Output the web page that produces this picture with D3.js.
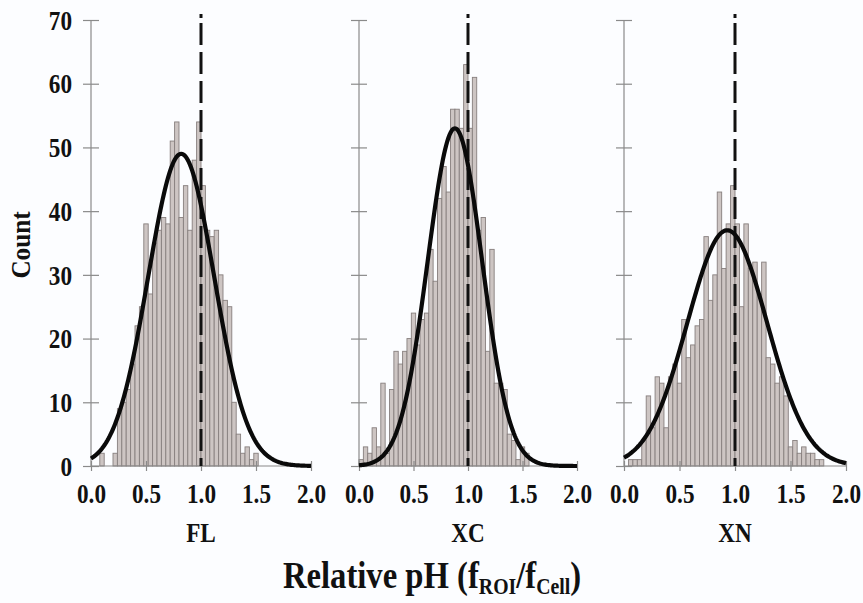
<!DOCTYPE html>
<html>
<head>
<meta charset="utf-8">
<script src="https://cdn.jsdelivr.net/npm/d3@7"></script>
<style>
  body { margin: 0; background: #fcfdff; }
  text { font-family: "Liberation Serif", "Times New Roman", serif; font-weight: bold; fill: #111; }
</style>
</head>
<body>
<svg width=863 height=603></svg>
<script>
// data: counts per 0.04-wide bin, starting at 0.0
var groups = ["FL", "XC", "XN"]
var countsFL = [0, 0, 2, 0, 0, 2, 9, 10, 12, 16, 22, 25, 38, 27, 35, 37, 39, 38, 51, 54,
                39, 44, 37, 48, 54, 44, 37, 36, 37, 30, 26, 25, 10, 5, 2, 3, 1, 2]
var countsXC = [1, 3, 2, 6, 3, 13, 2, 12, 18, 16, 18, 20, 24, 19, 23, 24, 34, 29, 42, 47,
                43, 56, 56, 53, 63, 53, 61, 37, 39, 18, 34, 13, 13, 12, 5, 4, 1, 3, 2]
var countsXN = [0, 1, 1, 1, 4, 11, 6, 14, 13, 6, 14, 16, 13, 23, 17, 19, 22, 23, 36, 26,
                30, 43, 31, 38, 44, 38, 25, 38, 31, 32, 27, 32, 17, 16, 13, 14, 11, 3, 4, 2,
                3, 2, 2, 1, 1]
var binWidth = 0.04

// fitted normal curves
var fitMean = [0.82, 0.88, 0.93]
var fitSd = [0.30, 0.25, 0.36]
var fitPeak = [49, 53, 37]

var xTicks = [0, 0.5, 1.0, 1.5, 2.0]
var yTicks = [0, 10, 20, 30, 40, 50, 60, 70]
var refValue = 1.0

var svg = d3.select('svg')
var allCounts = [countsFL, countsXC, countsXN]
var panelLeft = [91, 359, 624]
var panelRight = [311, 577, 846]

var y = d3.scaleLinear().domain([0, 70]).range([466, 20])

groups.forEach(function(name, i) {
  var x = d3.scaleLinear().domain([0, 2]).range([panelLeft[i], panelRight[i]])
  var g = svg.append('g')

  // bars
  g.selectAll('rect')
    .data(allCounts[i].map(function(c, k) { return {k: k, c: c} }).filter(function(d) { return d.c > 0 }))
    .join('rect')
    .attr('x', function(d) { return x(d.k * binWidth) })
    .attr('width', function(d) { return x((d.k + 1) * binWidth) - x(d.k * binWidth) })
    .attr('y', function(d) { return y(d.c) })
    .attr('height', function(d) { return y(0) - y(d.c) })
    .attr('fill', '#cdc5c3')
    .attr('stroke', '#877f7e')
    .attr('stroke-width', 0.9)

  // y axis, ticks crossing the line
  var ya = g.append('g')
    .attr('transform', 'translate(' + x(0) + ',0)')
    .call(d3.axisLeft(y).tickValues(yTicks).tickSize(8).tickPadding(14).tickFormat(i == 0 ? d3.format('d') : ''))
  ya.selectAll('.tick').append('line').attr('x2', 8)
  ya.select('.domain').attr('d', 'M0,' + y(70) + 'V' + y(0))
  ya.selectAll('line, path').attr('stroke', '#8a8a8a').attr('stroke-width', 1.2)
  ya.selectAll('text').style('font-size', '27px').attr('fill', '#111')
    .attr('transform', 'scale(0.86,1)').attr('dy', '0.34em')

  // x axis
  var xa = g.append('g')
    .attr('transform', 'translate(0,' + y(0) + ')')
    .call(d3.axisBottom(x).tickValues(xTicks).tickSize(5).tickPadding(13).tickFormat(d3.format('.1f')))
  xa.selectAll('.tick').append('line').attr('y2', -5)
  xa.select('.domain').attr('d', 'M' + x(0) + ',0H' + x(2))
  xa.selectAll('line, path').attr('stroke', '#8a8a8a').attr('stroke-width', 1.2)
  xa.selectAll('text').style('font-size', '27px').attr('fill', '#111')
    .attr('transform', 'scale(0.86,1)')

  // reference line at 1.0
  g.append('line')
    .attr('x1', x(refValue)).attr('x2', x(refValue))
    .attr('y1', 14).attr('y2', 18)
    .attr('stroke', '#111').attr('stroke-width', 3)
  g.append('line')
    .attr('x1', x(refValue)).attr('x2', x(refValue))
    .attr('y1', 23).attr('y2', y(0))
    .attr('stroke', '#111').attr('stroke-width', 3)
    .attr('stroke-dasharray', '22,7')

  // fitted curve
  var curve = d3.line()
    .x(function(v) { return x(v) })
    .y(function(v) { return y(fitPeak[i] * Math.exp(-Math.pow(v - fitMean[i], 2) / (2 * fitSd[i] * fitSd[i]))) })
  g.append('path')
    .attr('d', curve(d3.range(0, 2.0001, 0.01)))
    .attr('fill', 'none')
    .attr('stroke', '#0a0a0a')
    .attr('stroke-width', 4.2)

  // group label
  g.append('text')
    .attr('transform', 'translate(' + x(1) + ',542) scale(0.86,1)')
    .attr('text-anchor', 'middle')
    .style('font-size', '27px')
    .text(name)
})

// axis titles
svg.append('text')
  .attr('transform', 'translate(30,245) rotate(-90) scale(0.9,1)')
  .attr('text-anchor', 'middle')
  .style('font-size', '28px')
  .text('Count')

var title = svg.append('text')
  .attr('transform', 'translate(432,588) scale(0.86,1)')
  .attr('text-anchor', 'middle')
  .style('font-size', '38px')
title.append('tspan').text('Relative pH (f')
title.append('tspan').attr('dy', 6).style('font-size', '23px').text('ROI')
title.append('tspan').attr('dy', -6).text('/f')
title.append('tspan').attr('dy', 6).style('font-size', '23px').text('Cell')
title.append('tspan').attr('dy', -6).text(')')
</script>
</body>
</html>
